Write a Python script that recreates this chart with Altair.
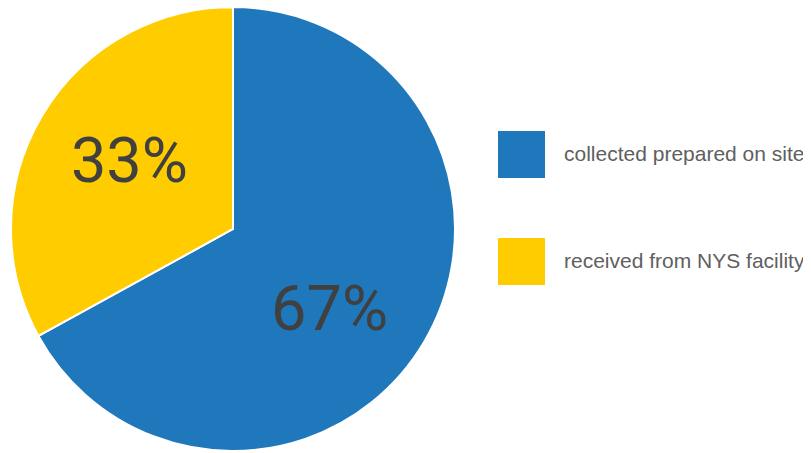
import altair as alt
import pandas as pd

categories = ["collected prepared on site", "received from NYS facility"]
values = [67, 33]
labels = ["67%", "33%"]
colors = ["#1F77BC", "#FFCC00"]

df = pd.DataFrame({"category": categories, "value": values, "label": labels,
                   "order": [0, 1]})

theta_scale = alt.Scale(domain=[0, 100], range=[0, 6.283185307179586])

color = alt.Color(
    "category:N",
    scale=alt.Scale(domain=categories, range=colors),
    sort=categories,
    legend=alt.Legend(
        title=None,
        orient="none",
        legendX=490,
        legendY=123,
        symbolType="square",
        symbolSize=2209,
        symbolStrokeWidth=0,
        symbolOpacity=1,
        labelFontSize=21,
        labelFont="Liberation Sans",
        labelColor="#606060",
        labelOffset=19,
        rowPadding=60,
        labelLimit=400,
    ),
)

pie = alt.Chart(df).mark_arc(outerRadius=222, stroke="white", strokeWidth=2, x=225, y=221).encode(
    theta=alt.Theta("value:Q", stack=True, scale=theta_scale),
    order=alt.Order("order:Q"),
    color=color,
)

stacked = alt.Chart(df).transform_stack(
    stack="value", groupby=[], as_=["v0", "v1"], sort=[alt.SortField("order")]
).transform_calculate(mid="(datum.v0 + datum.v1) / 2")

text_kw = dict(radius=125, x=225, y=221, font="Roboto", fontSize=63, color="#404040",
               align="center", baseline="middle")

text_big = stacked.transform_filter(alt.datum.order == 0).mark_text(
    dx=-11, dy=18, **text_kw
).encode(theta=alt.Theta("mid:Q", scale=theta_scale), text="label:N")

text_small = stacked.transform_filter(alt.datum.order == 1).mark_text(
    dx=4, dy=-2, **text_kw
).encode(theta=alt.Theta("mid:Q", scale=theta_scale), text="label:N")

chart = alt.layer(pie, text_big, text_small).properties(
    width=795, height=445, padding=0
).configure_view(stroke=None).properties(autosize=alt.AutoSizeParams(type="none"))

chart.save("out.html", embed_options={"renderer": "svg", "actions": False})
